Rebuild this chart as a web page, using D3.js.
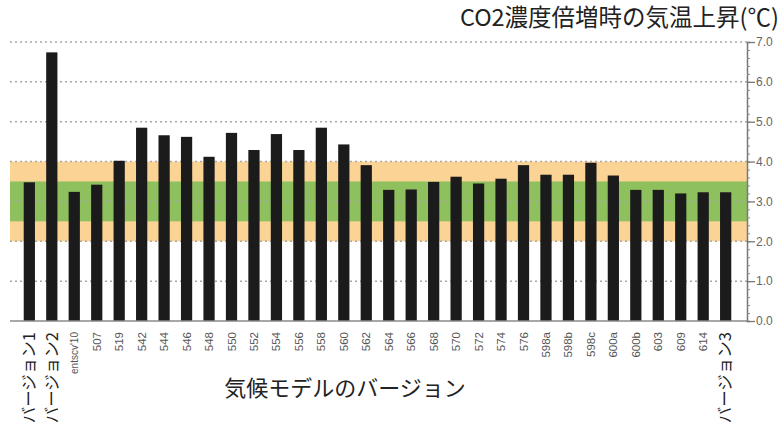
<!DOCTYPE html>
<html>
<head>
<meta charset="utf-8">
<script src="https://cdn.jsdelivr.net/npm/d3@7"></script>
<style>
  body { margin: 0; background: #fff; }
  svg { display: block; }
</style>
</head>
<body>
<div id="chart"></div>
<script>
  // Model versions and climate sensitivity (°C for doubled CO2)
  const versions = ["バージョン1", "バージョン2", "entscv'10", "507", "519", "542", "544", "546", "548",
    "550", "552", "554", "556", "558", "560", "562", "564", "566", "568", "570", "572", "574",
    "576", "598a", "598b", "598c", "600a", "600b", "603", "609", "614", "バージョン3"];
  const warming = [3.48, 6.74, 3.24, 3.42, 4.02, 4.85, 4.66, 4.62, 4.12,
    4.72, 4.29, 4.69, 4.29, 4.85, 4.43, 3.91, 3.29, 3.30, 3.49, 3.62, 3.45, 3.57,
    3.91, 3.67, 3.67, 3.97, 3.65, 3.29, 3.29, 3.20, 3.23, 3.23];

  // Likely ranges shown as shaded bands
  const wideRange = [2.0, 4.0];
  const narrowRange = [2.5, 3.5];
  const majorTicks = [0, 1, 2, 3, 4, 5, 6, 7];

  const W = 782, H = 430;
  const plot = { left: 10, right: 747, top: 42, bottom: 321 };

  const svg = d3.select("#chart")
    .append("svg")
    .attr("width", W)
    .attr("height", H);

  const x = d3.scaleBand()
    .domain(versions)
    .range([plot.left - 2, plot.right])
    .paddingInner(0.5)
    .paddingOuter(0.7);

  const y = d3.scaleLinear()
    .domain([0, 7])
    .range([plot.bottom, plot.top]);

  // Bands
  svg.append("rect")
    .attr("x", plot.left)
    .attr("width", plot.right - plot.left)
    .attr("y", y(wideRange[1]))
    .attr("height", y(wideRange[0]) - y(wideRange[1]))
    .attr("fill", "#fbd394");

  svg.append("rect")
    .attr("x", plot.left)
    .attr("width", plot.right - plot.left)
    .attr("y", y(narrowRange[1]))
    .attr("height", y(narrowRange[0]) - y(narrowRange[1]))
    .attr("fill", "#8ec05e");

  // Dotted gridlines
  svg.append("g")
    .selectAll("line")
    .data(majorTicks.filter(d => d > 0))
    .enter()
    .append("line")
    .attr("x1", plot.left)
    .attr("x2", plot.right)
    .attr("y1", d => y(d))
    .attr("y2", d => y(d))
    .attr("stroke", "#a8a8a8")
    .attr("stroke-width", 1.5)
    .attr("stroke-dasharray", "2,3");

  // Bars
  svg.append("g")
    .selectAll("rect")
    .data(versions)
    .enter()
    .append("rect")
    .attr("x", d => x(d))
    .attr("width", x.bandwidth())
    .attr("y", (d, i) => y(warming[i]))
    .attr("height", (d, i) => y(0) - y(warming[i]))
    .attr("fill", "#1b1b1b");

  // Baseline
  svg.append("line")
    .attr("x1", plot.left)
    .attr("x2", plot.right)
    .attr("y1", y(0))
    .attr("y2", y(0))
    .attr("stroke", "#8a8a8a")
    .attr("stroke-width", 1.5);

  // Right axis: minor ticks then major ticks with labels
  const minorAxis = svg.append("g")
    .attr("transform", `translate(${plot.right},0)`)
    .call(d3.axisRight(y).ticks(35).tickSize(3).tickFormat(""));
  minorAxis.select(".domain").attr("stroke", "#777").attr("stroke-width", 1.5);
  minorAxis.selectAll(".tick line").attr("stroke", "#888");

  const majorAxis = svg.append("g")
    .attr("transform", `translate(${plot.right},0)`)
    .call(d3.axisRight(y).tickValues(majorTicks).tickSize(8).tickFormat(d3.format(".1f")));
  majorAxis.select(".domain").remove();
  majorAxis.selectAll(".tick line").attr("stroke", "#777").attr("stroke-width", 1.3);
  majorAxis.selectAll(".tick text")
    .attr("x", 9)
    .attr("fill", "#666")
    .style("font-family", "Liberation Sans, Arial, sans-serif")
    .style("font-size", "12px");

  // Category labels, rotated
  const xAxis = svg.append("g")
    .attr("transform", `translate(0,${plot.bottom})`)
    .call(d3.axisBottom(x).tickSize(0));
  xAxis.select(".domain").remove();
  xAxis.selectAll(".tick text")
    .attr("transform", "rotate(-90)")
    .attr("x", -11)
    .attr("y", 0)
    .attr("dy", "0.35em")
    .style("text-anchor", "end")
    .style("font-family", d => d.startsWith("バ")
      ? "'Noto Sans CJK JP', sans-serif"
      : "'Liberation Sans Narrow', 'Liberation Sans', Arial, sans-serif")
    .style("font-size", d => d.startsWith("バ") ? "16.5px" : (d.length > 5 ? "10px" : "11.5px"))
    .attr("fill", d => d.startsWith("バ") ? "#222" : "#555");

  // Titles
  svg.append("text")
    .attr("x", 779)
    .attr("y", 26)
    .attr("text-anchor", "end")
    .style("font-family", "'Noto Sans CJK JP', sans-serif")
    .style("font-size", "23.5px")
    .attr("fill", "#222")
    .text("CO2濃度倍増時の気温上昇(℃)");

  svg.append("text")
    .attr("x", 345)
    .attr("y", 396)
    .attr("text-anchor", "middle")
    .style("font-family", "'Noto Sans CJK JP', sans-serif")
    .style("font-size", "22px")
    .attr("fill", "#222")
    .text("気候モデルのバージョン");
</script>
</body>
</html>
